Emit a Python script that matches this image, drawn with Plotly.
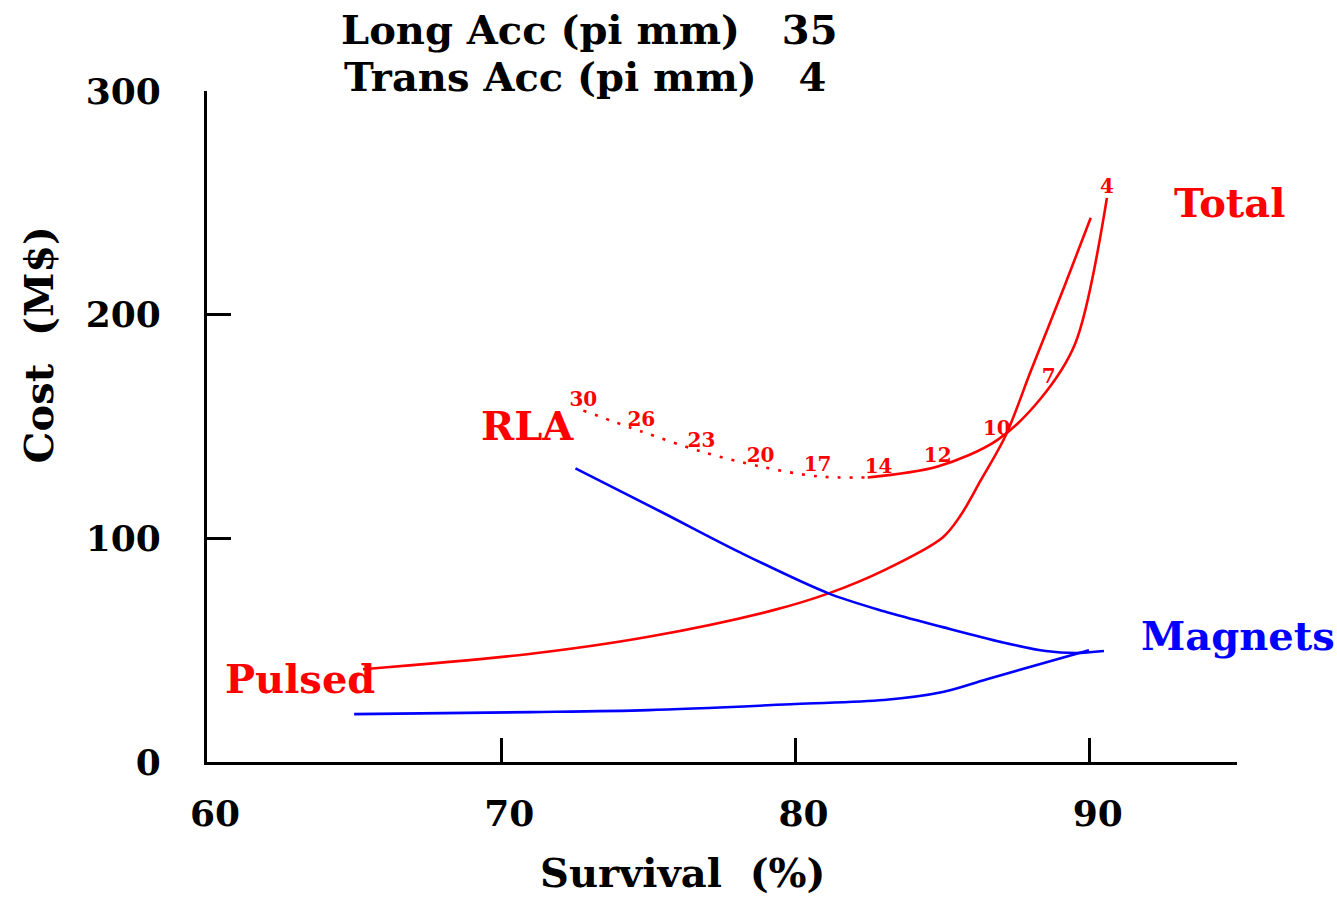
import plotly.graph_objects as go

RED = "#ff0000"
BLUE = "#0000ff"
FONT = "DejaVu Serif"

# Total cost curve (RLA scan), labelled points
total_label_x = [72.79, 74.76, 76.80, 78.81, 80.75, 82.82, 84.83, 86.84, 88.60, 90.58]
total_label_y = [157.1, 147.8, 138.8, 132.1, 127.7, 127.2, 132.1, 143.8, 167.0, 252.2]
total_labels = ["30", "26", "23", "20", "17", "14", "12", "10", "7", "4"]

# dotted part of the Total curve
total_dot_x = [72.79, 74.76, 76.80, 78.81, 80.75, 82.45]
total_dot_y = [157.1, 147.8, 138.8, 132.1, 127.7, 127.2]

# solid part of the Total curve
total_solid_x = [82.45, 84.83, 86.84, 88.33, 89.50, 90.58]
total_solid_y = [127.2, 132.1, 143.8, 162.5, 187.0, 252.2]

# Pulsed total (red)
pulsed_x = [65.3, 70.88, 75.0, 79.25, 81.12, 83.0, 85.0, 85.61, 86.29, 87.14, 88.0, 89.12, 90.03]
pulsed_y = [41.5, 48.2, 56.0, 67.9, 75.4, 85.7, 100.4, 110.3, 125.9, 146.0, 175.0, 212.1, 243.3]

# Magnets for RLA (blue upper)
mag_rla_x = [72.52, 75.41, 78.13, 81.12, 83.0, 85.0, 87.0, 88.5, 89.52, 90.48]
mag_rla_y = [131.25, 112.0, 93.6, 75.4, 67.4, 60.3, 53.6, 49.6, 48.7, 49.6]

# Magnets for pulsed (blue lower)
mag_pul_x = [65.0, 71.0, 75.0, 80.0, 83.0, 85.0, 86.5, 89.97]
mag_pul_y = [21.4, 22.3, 23.2, 25.9, 27.7, 31.3, 37.0, 50.0]

x_ticks = [60, 70, 80, 90]
y_ticks = [0, 100, 200, 300]

fig = go.Figure()

LW = 2.6
SM = 0.9
fig.add_trace(go.Scatter(x=pulsed_x, y=pulsed_y, mode="lines",
                         line=dict(color=RED, width=LW, shape="spline", smoothing=SM)))
fig.add_trace(go.Scatter(x=mag_pul_x, y=mag_pul_y, mode="lines",
                         line=dict(color=BLUE, width=LW, shape="spline", smoothing=SM)))
fig.add_trace(go.Scatter(x=mag_rla_x, y=mag_rla_y, mode="lines",
                         line=dict(color=BLUE, width=LW, shape="spline", smoothing=SM)))
fig.add_trace(go.Scatter(x=total_dot_x, y=total_dot_y, mode="lines",
                         line=dict(color=RED, width=LW, dash="3px,9px", shape="spline", smoothing=SM)))
fig.add_trace(go.Scatter(x=total_solid_x, y=total_solid_y, mode="lines",
                         line=dict(color=RED, width=LW, shape="spline", smoothing=SM)))
fig.add_trace(go.Scatter(x=total_label_x, y=total_label_y, mode="text",
                         text=total_labels, textposition="top center",
                         textfont=dict(family=FONT, size=20, color=RED, weight="bold"),
                         cliponaxis=False))

def lab(x, y, text, color, size=40, xref="x", yref="y"):
    fig.add_annotation(x=x, y=y, xref=xref, yref=yref, text=text, showarrow=False,
                       xanchor="center", yanchor="middle",
                       font=dict(family=FONT, size=size, color=color, weight="bold"))

lab(0.993, 250.0, "Total", RED, xref="paper")
lab(1.001, 56.7, "Magnets", BLUE, xref="paper")
lab(70.88, 150.4, "RLA", RED)
lab(63.16, 37.5, "Pulsed", RED)

lab(0.371, 1.091, "Long Acc (pi mm)\u00a0\u00a0 35", "black", xref="paper", yref="paper")
lab(0.367, 1.022, "Trans Acc (pi mm)\u00a0\u00a0 4", "black", xref="paper", yref="paper")
lab(0.462, -0.165, "Survival\u00a0\u00a0(%)", "black", xref="paper", yref="paper")
fig.add_annotation(x=-0.164, y=0.621, xref="paper", yref="paper", text="Cost\u00a0\u00a0(M$)",
                   showarrow=False, textangle=-90, xanchor="center", yanchor="middle",
                   font=dict(family=FONT, size=40, color="black", weight="bold"))

fig.update_layout(
    width=1337, height=900,
    margin=dict(l=207, r=100, t=91, b=138),
    paper_bgcolor="white", plot_bgcolor="white",
    showlegend=False,
    font=dict(family=FONT, color="black"),
)
fig.update_xaxes(range=[60, 95], tickvals=x_ticks, ticktext=[str(v) for v in x_ticks],
                 ticks="inside", ticklen=24, tickwidth=2.5, tickcolor="black",
                 showline=True, linewidth=3, linecolor="black",
                 showgrid=False, zeroline=False, ticklabelshift=8, ticklabelstandoff=18,
                 tickfont=dict(family=FONT, size=36, color="black", weight="bold"))
fig.update_yaxes(range=[0, 300], tickvals=y_ticks, ticktext=[str(v) for v in y_ticks],
                 ticks="inside", ticklen=24, tickwidth=2.5, tickcolor="black",
                 showline=True, linewidth=3, linecolor="black",
                 showgrid=False, zeroline=False, ticklabelstandoff=36,
                 tickfont=dict(family=FONT, size=36, color="black", weight="bold"))

fig.write_html("out.html")
